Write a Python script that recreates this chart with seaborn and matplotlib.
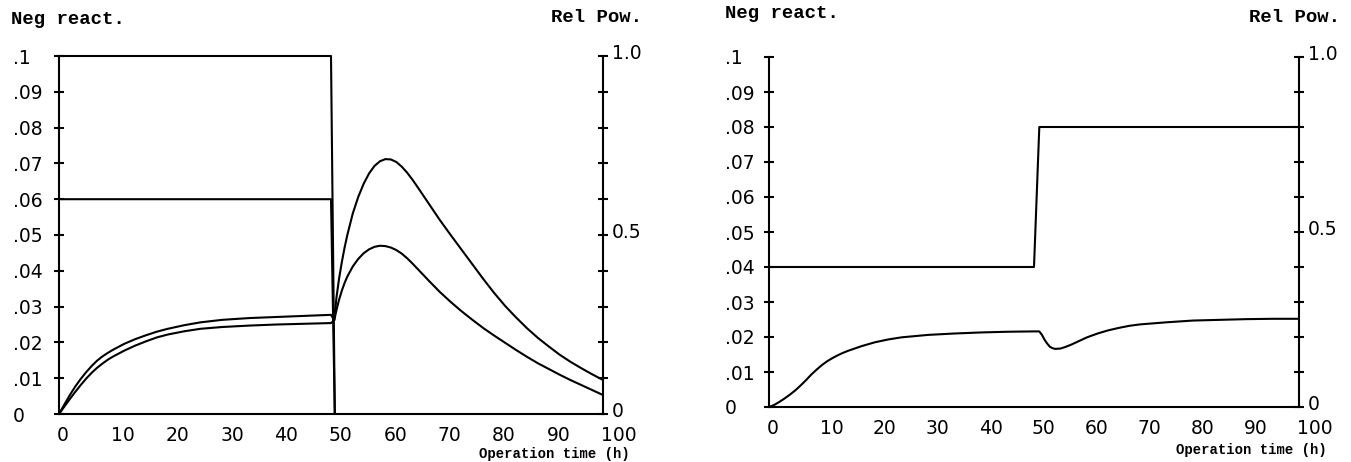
import matplotlib
matplotlib.use("Agg")
import matplotlib.pyplot as plt
import matplotlib.transforms as mtransforms
import pandas as pd
import seaborn as sns

# ---------------- Case A: 1.0 and 0.6 relative power for 50 h, then shutdown
a_power_time = [0, 50, 50.7]
a_power_full = [1.0, 1.0, 0.0]
a_power_part = [0.6, 0.6, 0.0]

a_xe_time = [0, 1, 2, 3, 4, 5, 6, 7, 8, 9, 10, 12, 14, 16, 18, 20, 23, 26,
             30, 35, 40, 45, 50,
             50.6, 51.0, 51.5, 52.0, 52.5, 53.0, 54, 55, 56, 57, 58, 59, 60,
             61, 62, 63, 64, 65, 66, 68, 70, 72, 74, 76, 78, 80, 82, 84, 86,
             88, 90, 92, 94, 96, 98, 100]
a_xe_full = [0, 0.0027, 0.0053, 0.0077, 0.0098, 0.0117, 0.0134, 0.0149,
             0.0161, 0.0171, 0.0180, 0.0196, 0.0209, 0.0220, 0.0230, 0.0238,
             0.0248, 0.0256, 0.0263, 0.0268, 0.0271, 0.0274, 0.0277,
             0.0262, 0.0325, 0.0380, 0.0425, 0.0465, 0.0500, 0.0560, 0.0606,
             0.0643, 0.0672, 0.0693, 0.0706, 0.0712, 0.0711, 0.0704, 0.0691,
             0.0674, 0.0654, 0.0632, 0.0587, 0.0542, 0.0500, 0.0459, 0.0418,
             0.0377, 0.0338, 0.0302, 0.0270, 0.0240, 0.0213, 0.0189, 0.0166,
             0.0146, 0.0128, 0.0111, 0.0095]
a_xe_part = [0, 0.0021, 0.0042, 0.0062, 0.0081, 0.0099, 0.0115, 0.0129,
             0.0141, 0.0152, 0.0161, 0.0177, 0.0191, 0.0203, 0.0214, 0.0222,
             0.0231, 0.0238, 0.0243, 0.0247, 0.0250, 0.0252, 0.0254,
             0.0262, 0.0290, 0.0320, 0.0345, 0.0366, 0.0384, 0.0412, 0.0433,
             0.0449, 0.0460, 0.0467, 0.0470, 0.0469, 0.0465, 0.0458, 0.0448,
             0.0435, 0.0420, 0.0404, 0.0372, 0.0341, 0.0313, 0.0287, 0.0263,
             0.0240, 0.0219, 0.0199, 0.0179, 0.0160, 0.0142, 0.0126, 0.0110,
             0.0095, 0.0081, 0.0067, 0.0053]

# ---------------- Case B: 0.4 relative power for 50 h, then step to 0.8
b_power_time = [0, 50, 51, 100]
b_power = [0.4, 0.4, 0.8, 0.8]

b_xe_time = [0, 1, 2, 3, 4, 5, 6, 7, 8, 9, 10, 11, 12, 13, 14, 15, 17.5,
             20, 22.5, 25, 30, 35, 40, 45, 50, 51, 51.5, 52, 52.5, 53, 53.5,
             54, 55, 56, 57, 58, 60, 62, 64, 66, 68, 70, 75, 80, 85, 90, 95,
             100]
b_xe = [0, 0.0006, 0.0015, 0.0025, 0.0036, 0.0048, 0.0062, 0.0077, 0.0093,
        0.0107, 0.0120, 0.0131, 0.0140, 0.0148, 0.0155, 0.0161, 0.0174,
        0.0185, 0.0193, 0.0199, 0.0206, 0.0210, 0.0213, 0.0215, 0.0216,
        0.0216, 0.0206, 0.0192, 0.0181, 0.0172, 0.0168, 0.0166, 0.0167,
        0.0172, 0.0178, 0.0185, 0.0199, 0.0210, 0.0219, 0.0226, 0.0232,
        0.0236, 0.0242, 0.0247, 0.0249, 0.0251, 0.0252, 0.0252]

# ---------------- axes ticks and labels
x_ticks = [0, 10, 20, 30, 40, 50, 60, 70, 80, 90, 100]
x_tick_labels = ["0", "10", "20", "30", "40", "50", "60", "70", "80", "90", "100"]
react_ticks = [0, 0.01, 0.02, 0.03, 0.04, 0.05, 0.06, 0.07, 0.08, 0.09, 0.1]
react_tick_labels = ["0", ".01", ".02", ".03", ".04", ".05", ".06", ".07",
                     ".08", ".09", ".1"]
pow_ticks = [0, 0.1, 0.2, 0.3, 0.4, 0.5, 0.6, 0.7, 0.8, 0.9, 1.0]
pow_tick_labels = ["0", "", "", "", "", "0.5", "", "", "", "", "1.0"]

left_title = "Neg react."
right_title = "Rel Pow."
x_title = "Operation time (h)"

sns.set_style("white")
plt.rcParams["font.family"] = ["DejaVu Sans"]

W, H = 1351, 462
fig = plt.figure(figsize=(W / 100, H / 100), dpi=100)
fig.patch.set_facecolor("white")

LW = 1.5
INK = "black"
TICK_FONT = {"family": "DejaVu Sans", "size": 13.5}
MONO = ["Liberation Mono", "DejaVu Sans Mono"]


def px_rect(x0, x1, ytop, ybot):
    return [x0 / W, 1 - ybot / H, (x1 - x0) / W, (ybot - ytop) / H]


def draw_line(ax, x, y):
    df = pd.DataFrame({"t": x, "v": y})
    sns.lineplot(data=df, x="t", y="v", ax=ax, color=INK, linewidth=LW,
                 sort=False, estimator=None, clip_on=False)


def style_panel(ax, ax2, left_pad):
    ax.set_xlim(0, 100)
    ax.set_ylim(0, 0.1)
    ax2.set_ylim(0, 1)
    ax.set_xlabel("")
    ax.set_ylabel("")
    ax2.set_ylabel("")
    ax.set_xticks(x_ticks)
    ax.set_xticklabels(x_tick_labels, fontdict=TICK_FONT)
    ax.set_yticks(react_ticks)
    ax.set_yticklabels(react_tick_labels, fontdict=TICK_FONT)
    ax2.set_yticks(pow_ticks)
    ax2.set_yticklabels(pow_tick_labels, fontdict=TICK_FONT)

    for s in ["top", "right"]:
        ax.spines[s].set_visible(False)
    for s in ["top", "left", "bottom"]:
        ax2.spines[s].set_visible(False)
    for sp in list(ax.spines.values()) + list(ax2.spines.values()):
        sp.set_linewidth(LW)
        sp.set_color(INK)
    ax.patch.set_alpha(0)
    ax2.patch.set_alpha(0)

    ax.tick_params(axis="x", direction="inout", length=7, width=LW,
                   colors=INK, pad=5)
    ax.tick_params(axis="y", direction="inout", length=7, width=LW,
                   colors=INK, pad=left_pad)
    ax2.tick_params(axis="y", direction="inout", length=7, width=LW,
                    colors=INK, pad=3, right=True, left=False)

    for lab in ax.get_xticklabels():
        lab.set_horizontalalignment("left")
        lab.set_transform(lab.get_transform() + mtransforms.ScaledTranslation(
            -1.5 / 72, 0, fig.dpi_scale_trans))
    for lab in ax.get_yticklabels():
        lab.set_horizontalalignment("left")
    for lab in ax2.get_yticklabels():
        lab.set_transform(lab.get_transform() + mtransforms.ScaledTranslation(
            0, 3 / 72, fig.dpi_scale_trans))


# ---------------- left panel
axA = fig.add_axes(px_rect(59, 603, 56, 414))
axA2 = axA.twinx()
draw_line(axA, a_xe_time, a_xe_full)
draw_line(axA, a_xe_time, a_xe_part)
draw_line(axA2, a_power_time, a_power_full)
draw_line(axA2, a_power_time, a_power_part)
style_panel(axA, axA2, left_pad=29.5)

# ---------------- right panel
axB = fig.add_axes(px_rect(769, 1299, 57, 407))
axB2 = axB.twinx()
draw_line(axB, b_xe_time, b_xe)
draw_line(axB2, b_power_time, b_power)
style_panel(axB, axB2, left_pad=28.2)

# ---------------- axis captions
cap = dict(family=MONO, weight="bold", color=INK)
fig.text(11 / W, 1 - 20 / H, left_title, ha="left", va="center", size=13.7, **cap)
fig.text(642 / W, 1 - 18 / H, right_title, ha="right", va="center", size=13.7, **cap)
fig.text(630 / W, 1 - 454 / H, x_title, ha="right", va="center", size=10, **cap)
fig.text(725 / W, 1 - 14 / H, left_title, ha="left", va="center", size=13.7, **cap)
fig.text(1340 / W, 1 - 18 / H, right_title, ha="right", va="center", size=13.7, **cap)
fig.text(1327 / W, 1 - 450 / H, x_title, ha="right", va="center", size=10, **cap)

fig.savefig("out.png", dpi=100, facecolor="white")
